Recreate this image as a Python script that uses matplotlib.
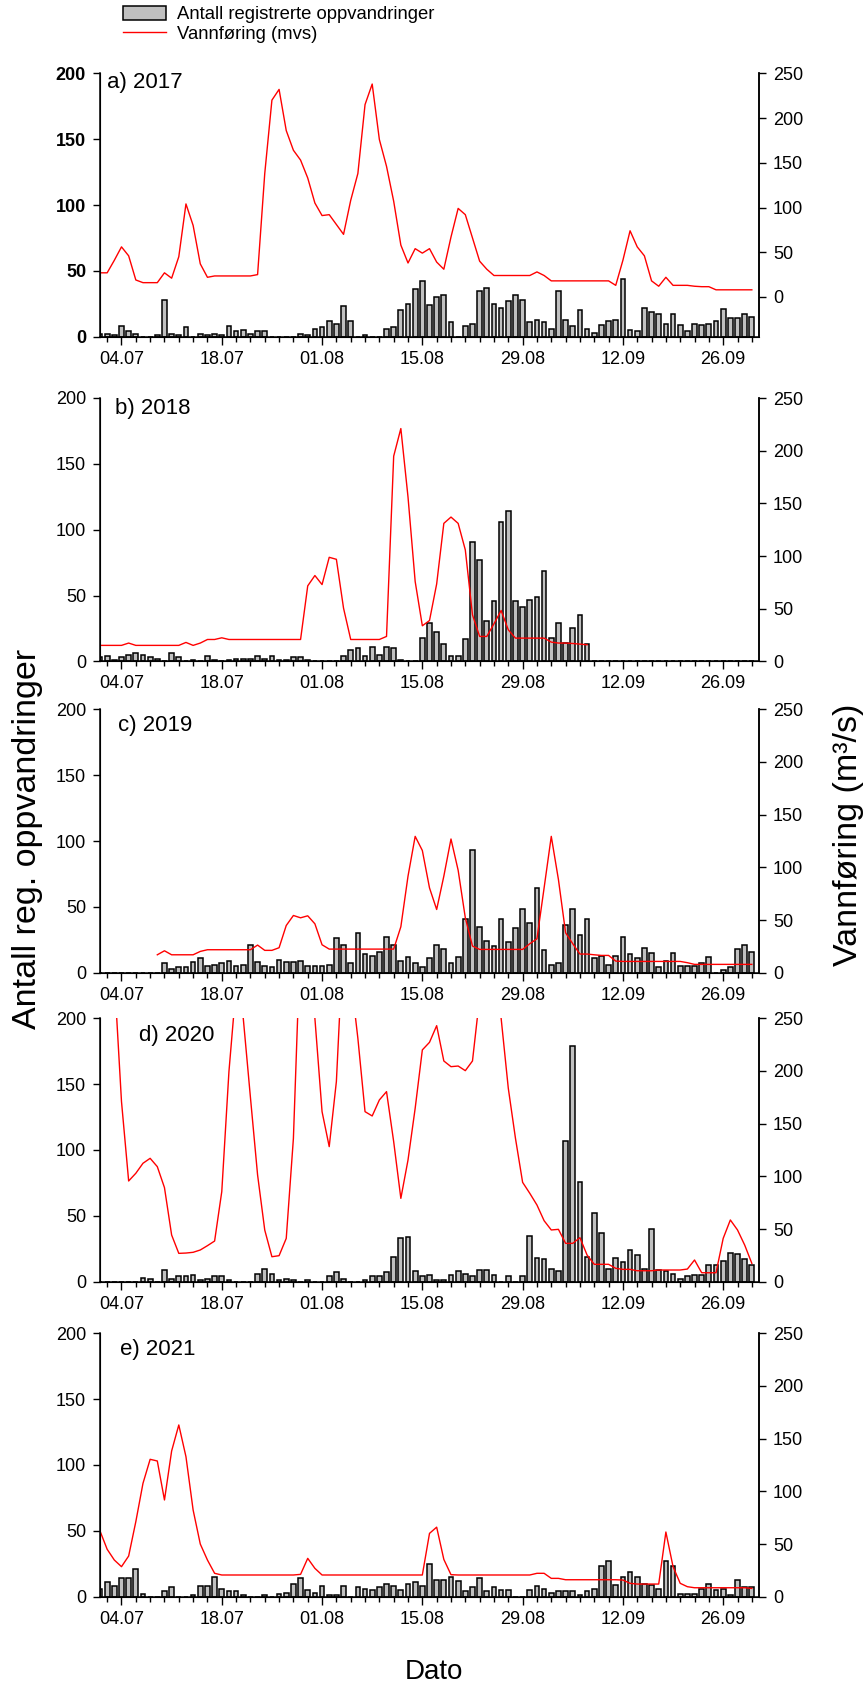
import numpy as np
import matplotlib
matplotlib.use("Agg")
import matplotlib.pyplot as plt
from matplotlib import font_manager
from matplotlib.ticker import FixedLocator

nan = np.nan

# ---------------- data ----------------
# day index 0 = 01.07, 91 = 30.09
years = ["2017", "2018", "2019", "2020", "2021"]
panel_labels = ["a) 2017", "b) 2018", "c) 2019", "d) 2020", "e) 2021"]

count_2017 = [2, 2, 1, 8, 4, 2, 0, 0, 1, 28,
              2, 1, 7, 0, 2, 1, 2, 1, 8, 4,
              5, 2, 4, 4, 0, 0, 0, 0, 2, 1,
              6, 7, 12, 10, 23, 12, 0, 1, 0, 0,
              6, 7, 20, 25, 36, 42, 24, 30, 32, 11,
              0, 8, 10, 35, 37, 25, 22, 27, 32, 28,
              11, 13, 11, 6, 35, 13, 8, 20, 6, 3,
              9, 12, 13, 44, 5, 4, 22, 19, 17, 10,
              17, 9, 4, 10, 9, 10, 12, 21, 14, 14,
              17, 15]
flow_2017 = [27, 27, 41, 56, 46, 19, 16, 16, 16, 27,
             21, 45, 104, 80, 37, 22, 23.5, 23.5, 23.5, 23.5,
             23.5, 23.5, 25, 138, 220, 232, 186, 164, 153, 133,
             105, 91, 92, 81, 70, 108, 138, 215, 238, 176,
             146, 107, 58, 38, 54, 49, 54, 39, 31, 67,
             99, 92, 66, 40, 31, 24, 24, 24, 24, 24,
             24, 28, 24, 18, 18, 18, 18, 18, 18, 18,
             18, 18, 13, 41, 74, 56, 46, 18, 12, 22,
             13, 13, 13, 12, 11.5, 11.5, 8, 8, 8, 8,
             8, 8]

count_2018 = [3, 4, 1, 3, 5, 6, 5, 3, 2, 0,
              6, 3, 0, 1, 0, 4, 1, 0, 1, 2,
              2, 2, 4, 2, 4, 1, 1, 3, 3, 1,
              0, 0, 0, 0, 4, 9, 10, 4, 11, 5,
              11, 10, 1, 0, 0, 18, 29, 22, 13, 4,
              4, 17, 91, 77, 31, 46, 106, 114, 46, 41,
              47, 49, 69, 18, 29, 14, 25, 35, 13, 0,
              0, 0, 0, 0, 0, 0, 0, 0, 0, 0,
              0, 0, 0, 0, 0, 0, 0, 0, 0, 0,
              0, 0]
flow_2018 = [15.2, 15.2, 15.2, 15.2, 17.4, 15.2, 15.2, 15.2, 15.2, 15.2,
             15.2, 15.2, 18, 15.2, 17.4, 20.8, 20.8, 22.4, 20.8, 20.8,
             20.8, 20.8, 20.8, 20.8, 20.8, 20.8, 20.8, 20.8, 20.8, 71.7,
             81.5, 72.9, 98.8, 96.9, 50.5, 20.8, 20.8, 20.8, 20.8, 20.8,
             23.7, 194.8, 221, 156, 75.8, 33.8, 38.8, 73.5, 131, 137,
             131, 105.8, 44.2, 23.7, 23.7, 35.7, 48.3, 30, 22.1, 22.1,
             22.1, 22.1, 22.1, 18.3, 17.4, 17.4, 17, 16.4, 15.8, nan,
             nan, nan, nan, nan, nan, nan, nan, nan, nan, nan,
             nan, nan, nan, nan, nan, nan, nan, nan, nan, nan,
             nan, nan]

count_2019 = [0, 0, 0, 0, 0, 0, 0, 0, 0, 7,
              3, 4, 4, 8, 11, 5, 6, 7, 9, 5,
              6, 21, 8, 5, 4, 10, 8, 8, 9, 5,
              5, 5, 6, 26, 21, 7, 30, 14, 13, 16,
              27, 21, 9, 12, 7, 4, 11, 21, 18, 7,
              12, 41, 93, 35, 24, 20, 41, 23, 34, 48,
              38, 64, 17, 6, 7, 36, 48, 29, 41, 11,
              13, 6, 13, 27, 14, 11, 19, 15, 4, 9,
              15, 5, 5, 5, 7, 12, 0, 2, 4, 18,
              21, 16]
flow_2019 = [nan, nan, nan, nan, nan, nan, nan, nan, 17, 20.8,
             17, 17, 17, 17, 20.2, 21.8, 21.8, 21.8, 21.8, 21.8,
             21.8, 21.8, 26.2, 21.2, 21.2, 23.7, 44.8, 54.3, 52.1, 54,
             46.4, 26.5, 22.4, 22.4, 22.4, 22.4, 22.4, 22.4, 22.4, 22.4,
             22.4, 22.4, 43.6, 91.6, 129.4, 116, 80.5, 60, 91.6, 126.9,
             97.2, 52.1, 25.3, 22.1, 22.1, 22.1, 22.1, 22.1, 22.1, 22.1,
             27.5, 32.2, 80.5, 129.4, 88.4, 37.9, 27.5, 17.7, 17.7, 17,
             16.4, 16.4, 11, 10.7, 10.7, 10.7, 10.7, 10.7, 10.7, 10.7,
             10.7, 10.7, 9.5, 7.9, 7.9, 7.9, 7.9, 7.9, 7.9, 7.9,
             7.9, 7.9]

count_2020 = [0, 0, 0, 0, 0, 0, 3, 2, 0, 9,
              2, 4, 4, 5, 1, 2, 4, 4, 1, 0,
              0, 0, 6, 10, 6, 1, 2, 1, 0, 1,
              0, 0, 4, 7, 2, 0, 0, 1, 4, 4,
              7, 19, 33, 34, 8, 4, 5, 1, 1, 5,
              8, 6, 4, 9, 9, 5, 0, 4, 0, 4,
              35, 18, 17, 10, 8, 107, 179, 76, 19, 52,
              37, 10, 18, 15, 24, 20, 10, 40, 9, 8,
              6, 2, 4, 5, 5, 13, 13, 16, 22, 21,
              17, 13]
flow_2020 = [290, 290, 290, 171, 95.6, 102.9, 112.4, 117.1, 109.2, 89.3,
             44.3, 26.9, 27.2, 27.9, 30.1, 34.2, 38.6, 85.5, 199.4, 280,
             250, 175, 101.3, 49, 23.7, 24.7, 41.1, 136, 330, 330,
             250, 161.4, 128.2, 190, 330, 290, 231, 161.4, 157.3, 172.5,
             180.4, 132.9, 79.1, 115.5, 164.6, 220, 227.2, 243, 209.5, 204.1,
             204.7, 200.3, 209.5, 270, 330, 320, 250, 183.6, 136.1, 94.3,
             83.9, 72.8, 57.9, 49.1, 49.7, 36.4, 36.4, 41.8, 25.3, 16.5,
             16.5, 16.5, 12.7, 11.7, 11.7, 10.4, 10.4, 10.4, 11.1, 11.1,
             11.1, 11.1, 12, 20.6, 8.5, 8.5, 8.5, 41.1, 58.6, 49.1,
             34.8, 17.4]

count_2021 = [6, 11, 8, 14, 14, 21, 2, 0, 0, 4,
              7, 0, 0, 1, 8, 8, 15, 6, 4, 4,
              1, 0, 0, 1, 0, 2, 3, 10, 14, 5,
              3, 8, 1, 1, 8, 0, 7, 6, 5, 7,
              10, 8, 5, 10, 11, 8, 25, 13, 13, 15,
              12, 4, 7, 14, 4, 7, 5, 5, 0, 0,
              5, 8, 6, 3, 4, 4, 4, 1, 4, 6,
              23, 27, 9, 15, 19, 15, 10, 9, 6, 27,
              23, 2, 2, 2, 6, 10, 5, 6, 1, 13,
              7, 7]
flow_2021 = [62.4, 45, 34.8, 28.5, 38.6, 71.2, 107.6, 130.4, 128.8, 91.8,
             138.3, 163, 132.9, 82.3, 50, 34.8, 22.2, 20.6, 20.6, 20.6,
             20.6, 20.6, 20.6, 20.6, 20.6, 20.6, 20.6, 20.6, 21.2, 36.4,
             26.9, 20.6, 20.6, 20.6, 20.6, 20.6, 20.6, 20.6, 20.6, 20.6,
             20.6, 20.6, 20.6, 20.6, 20.6, 20.6, 60.1, 66, 35.4, 20.9,
             20.6, 20.6, 20.6, 20.6, 20.6, 20.6, 20.6, 20.6, 20.6, 20.6,
             20.6, 22.2, 22.2, 17.4, 17.4, 16.1, 16.1, 16.1, 16.1, 16.1,
             16.1, 16.1, 16.1, 15.8, 12.7, 12, 12, 12, 12, 61.4,
             28.5, 12.7, 9.5, 8.5, 8.5, 8.5, 8.5, 8.5, 8.5, 8.5,
             8.5, 7.9]

counts = [count_2017, count_2018, count_2019, count_2020, count_2021]
flows = [flow_2017, flow_2018, flow_2019, flow_2020, flow_2021]

date_ticks = [3, 17, 31, 45, 59, 73, 87]
date_labels = ["04.07", "18.07", "01.08", "15.08", "29.08", "12.09", "26.09"]
left_ticks = [0, 50, 100, 150, 200]
right_ticks = [0, 50, 100, 150, 200, 250]

# ---------------- style ----------------
names = {f.name for f in font_manager.fontManager.ttflist}
BASE = "Liberation Sans"
NARROW = "Liberation Sans Narrow" if "Liberation Sans Narrow" in names else BASE
plt.rcParams["font.family"] = [BASE, "DejaVu Sans"]

W, H = 865.0, 1700.0
fig = plt.figure(figsize=(W / 100, H / 100), dpi=100)

tops = [73.3, 398.0, 709.3, 1018.3, 1333.3]
ax_h = 263.4
ax_left, ax_right = 100.0, 759.0
label_pos = [(0.010, 0.964), (0.023, 0.962), (0.027, 0.939), (0.059, 0.935), (0.030, 0.939)]

days = np.arange(92)
tick_fs = 15 if NARROW != BASE else 13

bar_handle = None
line_handle = None
for i in range(5):
    top = tops[i]
    rect = [ax_left / W, 1 - (top + ax_h) / H, (ax_right - ax_left) / W, ax_h / H]
    ax = fig.add_axes(rect)
    bars = ax.bar(days, counts[i], width=0.66, color="#c0c0c0",
                  edgecolor="black", linewidth=1.1, zorder=2)
    ax.set_xlim(0, 92)
    ax.set_ylim(0, 200)
    ax.set_yticks(left_ticks)
    ax.xaxis.set_major_locator(FixedLocator(date_ticks))
    ax.xaxis.set_minor_locator(FixedLocator([d for d in range(1, 92, 2) if d not in date_ticks]))
    ax.set_xticklabels(date_labels, fontfamily=NARROW, fontsize=tick_fs)
    ax.tick_params(axis="x", which="major", direction="out", length=6, width=1.0, pad=4)
    ax.tick_params(axis="x", which="minor", direction="out", length=3.6, width=1.0)
    ax.tick_params(axis="y", direction="out", length=5, width=1.0, pad=5)
    for lab in ax.get_yticklabels():
        lab.set_fontfamily(NARROW)
        lab.set_fontsize(tick_fs)
        if i == 0:
            lab.set_fontweight("bold")
    ax.spines["top"].set_visible(False)
    for s in ("left", "bottom", "right"):
        ax.spines[s].set_linewidth(1.1)

    ax2 = ax.twinx()
    ln, = ax2.plot(days, flows[i], color="red", linewidth=1.0)
    ax2.set_ylim(-44.4 if i == 0 else 0, 250)
    ax2.set_yticks(right_ticks)
    ax2.tick_params(axis="y", direction="out", length=5, width=1.0, pad=5)
    for lab in ax2.get_yticklabels():
        lab.set_fontfamily(NARROW)
        lab.set_fontsize(tick_fs)
    ax2.spines["top"].set_visible(False)
    ax2.spines["right"].set_linewidth(1.1)
    ax2.set_xlim(0, 92)

    ax.text(label_pos[i][0], label_pos[i][1], panel_labels[i], transform=ax.transAxes,
            ha="left", va="center", fontsize=16)
    if i == 0:
        bar_handle, line_handle = bars, ln

fig.legend([bar_handle, line_handle],
           ["Antall registrerte oppvandringer", "Vannføring (mvs)"],
           loc="upper left", bbox_to_anchor=(123.3 / W, 1 - 6.0 / H),
           frameon=False, fontsize=13.3, handlelength=2.3, handleheight=0.75,
           handletextpad=0.62, labelspacing=0.12, borderpad=0, borderaxespad=0)

fig.text(28 / W, 1 - 839 / H, "Antall reg. oppvandringer", rotation=90,
         ha="center", va="center", fontsize=24.5)
fig.text(848 / W, 1 - 835 / H, "Vannføring (m³/s)", rotation=90,
         ha="center", va="center", fontsize=24.5)
fig.text(433.6 / W, 1 - 1672 / H, "Dato", ha="center", va="center",
         fontsize=20, fontfamily=NARROW)

fig.savefig("out.png", dpi=100)
